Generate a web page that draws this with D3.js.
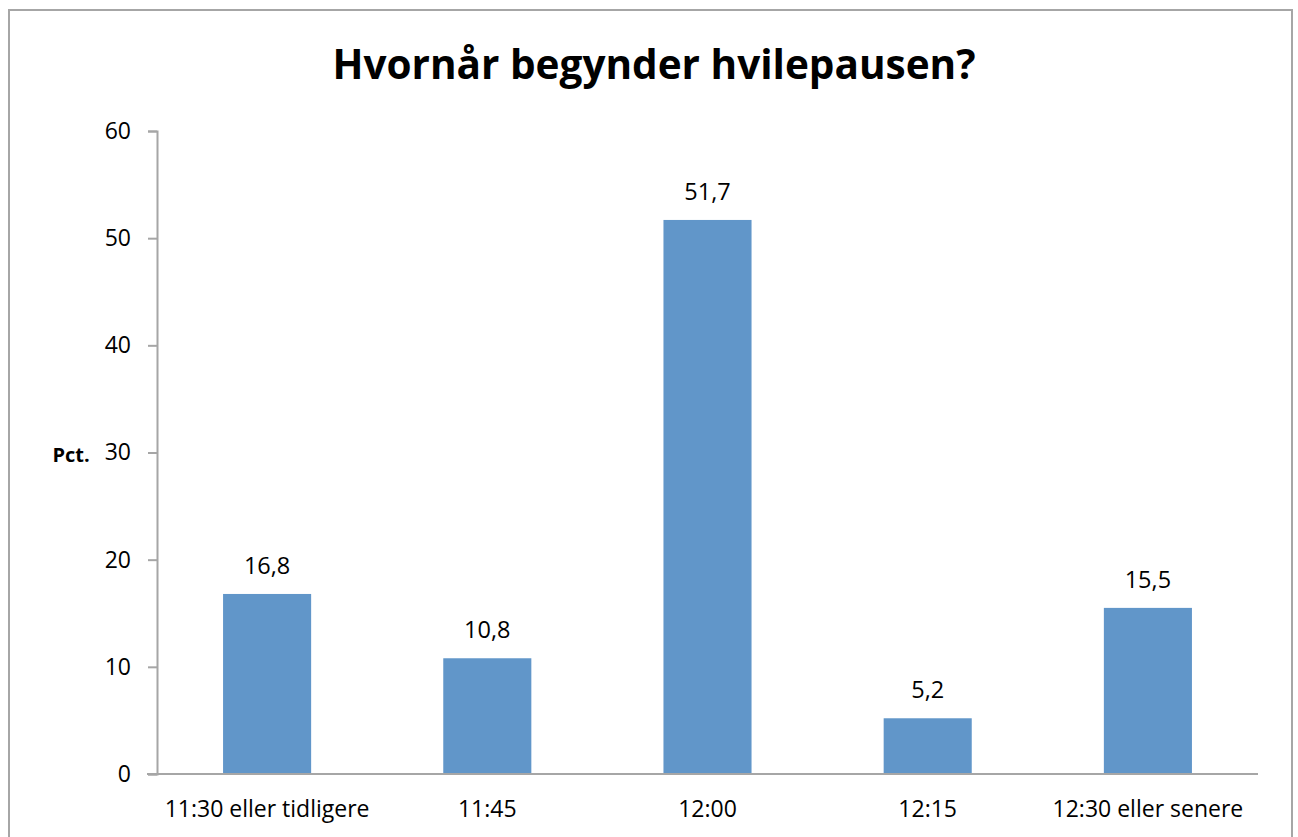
<!DOCTYPE html>
<html>
<head>
<meta charset="utf-8">
<script src="https://cdn.jsdelivr.net/npm/d3@7"></script>
<style>
  body { margin: 0; background: #fff; }
  text { font-family: "Open Sans", sans-serif; }
</style>
</head>
<body>
<svg width="1298" height="837"></svg>
<script>
const categories = ['11:30 eller tidligere', '11:45', '12:00', '12:15', '12:30 eller senere'];
const values = [16.8, 10.8, 51.7, 5.2, 15.5];
const yTicks = [0, 10, 20, 30, 40, 50, 60];

const svg = d3.select('svg');
const width = +svg.attr('width');
const height = +svg.attr('height');

const plotLeft = 157, plotRight = 1258, plotTop = 131, plotBottom = 774;

// chart frame
svg.append('rect')
    .attr('x', 9).attr('y', 10)
    .attr('width', 1283).attr('height', height)
    .attr('fill', 'white')
    .attr('stroke', '#a6a6a6')
    .attr('stroke-width', 2);

svg.append('text')
    .attr('x', 654).attr('y', 79)
    .attr('text-anchor', 'middle')
    .attr('font-size', 40.5)
    .attr('font-weight', 'bold')
    .text('Hvornår begynder hvilepausen?');

const x = d3.scaleBand()
    .domain(categories)
    .range([plotLeft, plotRight])
    .paddingInner(0.6)
    .paddingOuter(0.3);

const y = d3.scaleLinear()
    .domain([0, 60])
    .range([plotBottom, plotTop]);

const yAxis = svg.append('g')
    .attr('transform', `translate(${plotLeft},0)`)
    .call(d3.axisLeft(y).tickValues(yTicks).tickSize(9).tickPadding(17));
yAxis.select('.domain').attr('stroke', '#a6a6a6').attr('stroke-width', 2);
yAxis.selectAll('.tick line').attr('stroke', '#a6a6a6').attr('stroke-width', 2);
yAxis.selectAll('.tick text')
    .attr('font-size', 23)
    .attr('fill', '#000')
    .style('font-family', '"Open Sans", sans-serif');

svg.selectAll('.bar')
    .data(values)
    .join('rect')
    .attr('class', 'bar')
    .attr('x', (d, i) => x(categories[i]))
    .attr('y', d => y(d))
    .attr('width', x.bandwidth())
    .attr('height', d => y(0) - y(d))
    .attr('fill', '#6196c9');

const xAxis = svg.append('g')
    .attr('transform', `translate(0,${plotBottom})`)
    .call(d3.axisBottom(x).tickSize(0).tickPadding(27));
xAxis.select('.domain').attr('stroke', '#a6a6a6').attr('stroke-width', 2)
    .attr('d', `M${plotLeft - 10},0H${plotRight}`);
xAxis.selectAll('.tick text')
    .attr('font-size', 23)
    .attr('fill', '#000')
    .style('font-family', '"Open Sans", sans-serif');

svg.selectAll('.label')
    .data(values)
    .join('text')
    .attr('class', 'label')
    .attr('x', (d, i) => x(categories[i]) + x.bandwidth() / 2)
    .attr('y', d => y(d) - 20)
    .attr('text-anchor', 'middle')
    .attr('font-size', 23.5)
    .text(d => d3.format('.1f')(d).replace('.', ','));

svg.append('text')
    .attr('x', 71).attr('y', 462)
    .attr('text-anchor', 'middle')
    .attr('font-size', 20)
    .attr('font-weight', 'bold')
    .text('Pct.');
</script>
</body>
</html>
